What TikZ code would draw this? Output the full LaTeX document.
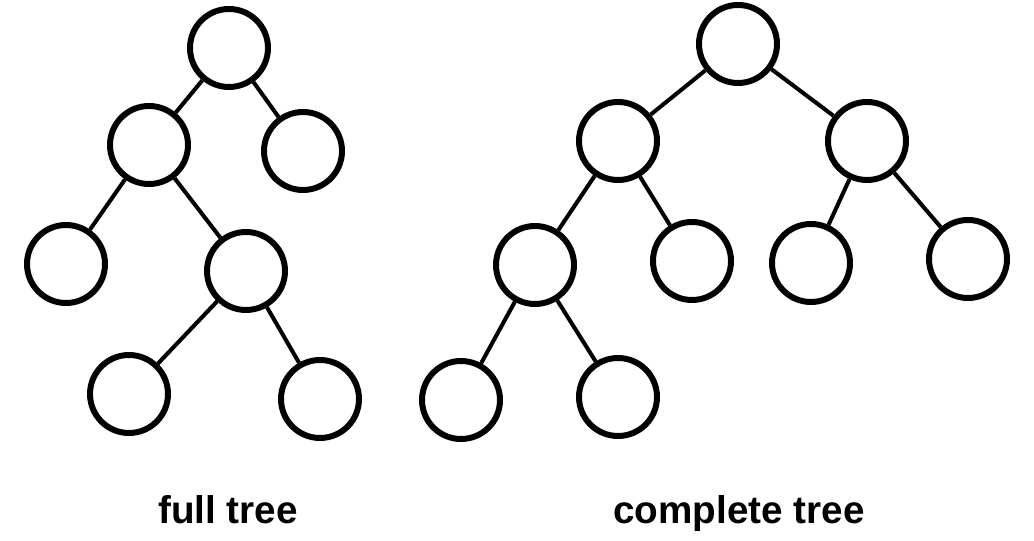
\documentclass[tikz,border=0pt]{standalone}
\usepackage{fontspec}
\setsansfont{Liberation Sans}
\tikzset{
  vertex/.style={circle,draw=black,line width=1.7pt,minimum size=0.78cm,inner sep=0pt,fill=white},
  edge/.style={draw=black,line width=1.15pt},
  caption/.style={font=\sffamily\bfseries\fontsize{11}{13}\selectfont,text=black,anchor=base}
}
\begin{document}
\begin{tikzpicture}[x=1cm,y=1cm]
\path[use as bounding box,fill=white] (0,0) rectangle (10.34,5.40);
% full tree
\node[vertex] (fr) at (2.29,4.92) {};
\node[vertex] (fl) at (1.49,3.95) {};
\node[vertex] (frr) at (3.03,3.89) {};
\node[vertex] (fll) at (0.66,2.76) {};
\node[vertex] (flr) at (2.46,2.69) {};
\node[vertex] (flrl) at (1.29,1.46) {};
\node[vertex] (flrr) at (3.20,1.41) {};
\draw[edge] (fr)--(fl) (fr)--(frr) (fl)--(fll) (fl)--(flr) (flr)--(flrl) (flr)--(flrr);
\node[caption] (fcap) at (2.28,0.16) {full tree};
% complete tree
\node[vertex] (cr) at (7.38,4.96) {};
\node[vertex] (cl) at (6.18,3.99) {};
\node[vertex] (crr) at (8.67,3.99) {};
\node[vertex] (cll) at (5.35,2.75) {};
\node[vertex] (clr) at (6.92,2.79) {};
\node[vertex] (crl) at (8.11,2.77) {};
\node[vertex] (crrr) at (9.68,2.81) {};
\node[vertex] (clll) at (4.61,1.40) {};
\node[vertex] (cllr) at (6.18,1.43) {};
\draw[edge] (cr)--(cl) (cr)--(crr) (cl)--(cll) (cl)--(clr) (crr)--(crl) (crr)--(crrr) (cll)--(clll) (cll)--(cllr);
\node[caption] (ccap) at (7.39,0.16) {complete tree};
\end{tikzpicture}
\end{document}
